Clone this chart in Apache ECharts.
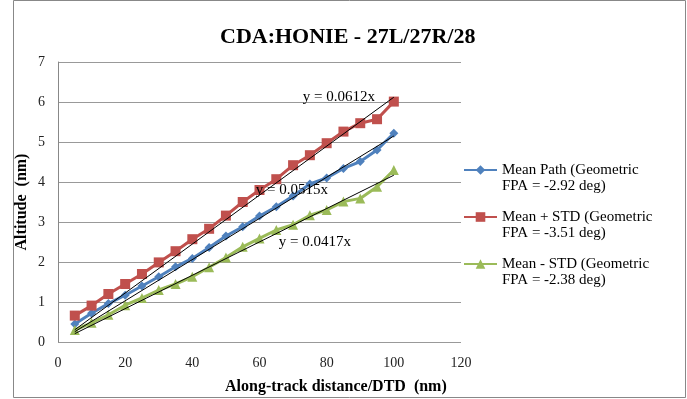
<!DOCTYPE html>
<html>
<head>
<meta charset="utf-8">
<script src="https://cdn.jsdelivr.net/npm/echarts@6/dist/echarts.min.js"></script>
<style>html,body{margin:0;padding:0;background:#fff;}#c{width:687px;height:399px;}</style>
</head>
<body>
<div id="c"></div>
<script>
var distances = [5,10,15,20,25,30,35,40,45,50,55,60,65,70,75,80,85,90,95,100];
var meanPath = [0.45,0.72,0.96,1.17,1.40,1.63,1.88,2.09,2.36,2.65,2.88,3.15,3.38,3.65,3.95,4.10,4.34,4.51,4.80,5.22];
var meanPlusStd = [0.66,0.91,1.20,1.45,1.70,1.99,2.27,2.57,2.83,3.16,3.50,3.80,4.07,4.42,4.67,4.97,5.26,5.47,5.57,6.01];
var meanMinusStd = [0.30,0.48,0.68,0.92,1.10,1.30,1.45,1.63,1.87,2.11,2.38,2.59,2.80,2.93,3.17,3.30,3.51,3.59,3.88,4.30];
var seriesNames = ['Mean Path (Geometric\nFPA = -2.92 deg)','Mean + STD (Geometric\nFPA = -3.51 deg)','Mean - STD (Geometric\nFPA = -2.38 deg)'];
var trendSlopes = [0.0515, 0.0612, 0.0417];
var trendLabels = ['y = 0.0515x','y = 0.0612x','y = 0.0417x'];
var xTicks = [0,20,40,60,80,100,120];
var yTicks = [0,1,2,3,4,5,6,7];

var serif = "'Liberation Serif','Times New Roman',serif";
var colors = ['#4F81BD','#C0504D','#9BBB59'];
var symbols = ['diamond','rect','triangle'];
var symSizes = [9,10,10];
var values = [meanPath, meanPlusStd, meanMinusStd];
var labelOffsets = [[-102,54],[-55,0],[-79,67]];

function pairs(xs, ys){ return xs.map(function(x,i){return [x, ys[i]];}); }

var series = [];
values.forEach(function(v,i){
  series.push({
    name: seriesNames[i], type:'line', data: pairs(distances, v),
    symbol: symbols[i], symbolSize: symSizes[i], showAllSymbol:true,
    lineStyle:{color:colors[i], width:3}, itemStyle:{color:colors[i]},
    z: 2
  });
});
trendSlopes.forEach(function(k,i){
  var x0 = distances[0], x1 = distances[distances.length-1];
  series.push({
    name:'trend'+i, type:'line', symbol:'circle', symbolSize:0.1, silent:true,
    lineStyle:{color:'#000', width:1}, itemStyle:{color:'#000'}, z:3,
    data:[[x0, k*x0], {value:[x1, k*x1], label:{show:true, position:'inside', offset:labelOffsets[i],
      formatter: trendLabels[i], fontFamily: serif, fontSize: 15, color:'#000'}}],
    label:{show:false}
  });
});

var chart = echarts.init(document.getElementById('c'), null, {renderer:'canvas'});
chart.setOption({
  animation:false,
  backgroundColor:'#fff',
  title:[
    {text:'CDA:HONIE - 27L/27R/28', left:215, top:21, textStyle:{fontFamily:serif, fontSize:22, fontWeight:'bold', color:'#000'}},
    {text:'Along-track distance/DTD  (nm)', left:220, top:374, textStyle:{fontFamily:serif, fontSize:16, fontWeight:'bold', color:'#000'}}
  ],
  grid:{left:58, right:226, top:62, bottom:57},
  legend:{
    data: seriesNames, orient:'vertical', left:458, top:141, itemWidth:33, itemHeight:12, itemGap:-1,
    formatter:function(n){return '\n' + n;},
    textStyle:{fontFamily:serif, fontSize:15, color:'#000', lineHeight:16},
    itemStyle:{borderWidth:0}
  },
  xAxis:{type:'value', min:0, max:120, interval:20,
    axisLine:{show:false}, axisTick:{show:false}, splitLine:{show:false},
    axisLabel:{fontFamily:serif, fontSize:14, color:'#222', margin:14, formatter:function(v){return xTicks.indexOf(v)>=0?String(v):'';}}
  },
  yAxis:{type:'value', min:0, max:7, interval:1,
    name:'Altitude  (nm)', nameLocation:'middle', nameGap:28, nameRotate:90, nameMoveOverlap:false,
    nameTextStyle:{fontFamily:serif, fontSize:16, fontWeight:'bold', color:'#000'},
    axisLine:{show:true, lineStyle:{color:'#888', width:1}}, axisTick:{show:false},
    splitLine:{show:true, lineStyle:{color:'#999', width:1}},
    axisLabel:{fontFamily:serif, fontSize:14, color:'#222', margin:13, formatter:function(v){return yTicks.indexOf(v)>=0?String(v):'';}}
  },
  graphic:[{type:'rect', shape:{x:13.5, y:0.5, width:672, height:397}, style:{fill:null, stroke:'#888', lineWidth:1}, silent:true, z:-1}],
  series: series
});
</script>
</body>
</html>
